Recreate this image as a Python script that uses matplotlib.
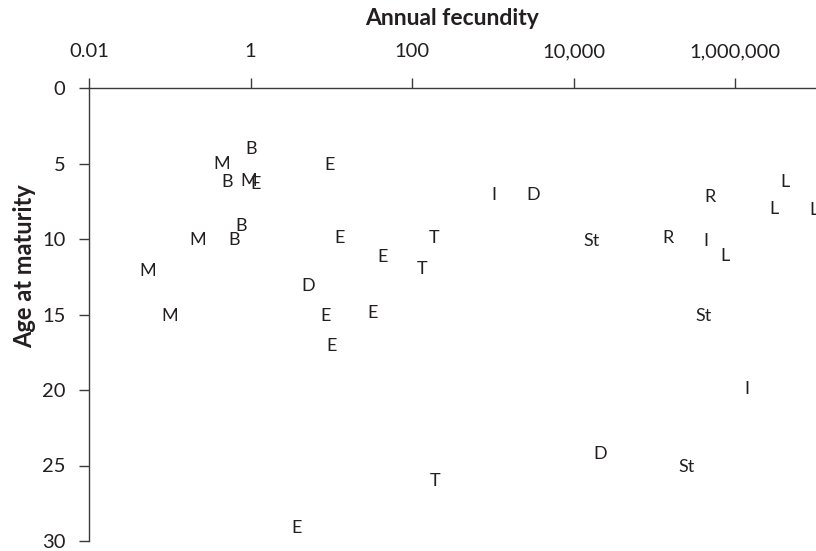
import matplotlib
matplotlib.use("Agg")
import matplotlib.pyplot as plt
from matplotlib.ticker import FixedLocator, FixedFormatter, NullLocator

plt.rcParams['font.family'] = ['Lato', 'DejaVu Sans']

labels = ['B', 'M', 'E', 'B', 'M', 'E', 'B', 'M', 'B', 'E',
          'M', 'D', 'M', 'E', 'E', 'E', 'I', 'D', 'T', 'E',
          'T', 'L', 'R', 'L', 'L', 'St', 'R', 'I', 'L', 'St',
          'I', 'D', 'St', 'T', 'E']
fecundity = [1.03, 0.44, 9.4, 0.51, 0.94, 1.14, 0.76, 0.22, 0.63, 12.8,
             0.054, 5.1, 0.099, 8.4, 32.6, 10.2, 1030, 3180, 189, 43,
             132, 4.08e6, 4.9e5, 2.98e6, 9.5e6, 16800, 1.49e5, 4.33e5, 7.4e5, 4.0e5,
             1.38e6, 21600, 2.5e5, 192, 3.76]
age = [4.05, 5.0, 5.1, 6.25, 6.15, 6.35, 9.15, 10.05, 10.05, 9.95,
       12.1, 13.1, 15.1, 15.1, 14.9, 17.1, 7.1, 7.1, 9.95, 11.2,
       12.0, 6.25, 7.25, 8.0, 8.05, 10.1, 9.95, 10.1, 11.1, 15.1,
       19.95, 24.25, 25.1, 26.05, 29.15]

xticks = [0.01, 1, 100, 1e4, 1e6]
xticklabels = ['0.01', '1', '100', '10,000', '1,000,000']
yticks = [0, 5, 10, 15, 20, 25, 30]
yticklabels = ['0', '5', '10', '15', '20', '25', '30']

W, H = 816, 551
fig = plt.figure(figsize=(W / 100, H / 100), dpi=100)
ax = fig.add_axes([89 / W, 1 - 541 / H, (816 - 89) / W, (541 - 88) / H])

txt = '#231f20'
spine_c = '#3a3a3a'

ax.set_xscale('log')
ax.set_xlim(0.01, 1e7)
ax.set_ylim(30, 0)

for lab, xv, yv in zip(labels, fecundity, age):
    ax.text(xv, yv, lab, ha='center', va='center', fontsize=13, color=txt,
            clip_on=False)

for s in ['right', 'bottom']:
    ax.spines[s].set_visible(False)
for s in ['top', 'left']:
    ax.spines[s].set_color(spine_c)
    ax.spines[s].set_linewidth(1.0)

ax.xaxis.tick_top()
ax.xaxis.set_major_locator(FixedLocator(xticks))
ax.xaxis.set_major_formatter(FixedFormatter(xticklabels))
ax.xaxis.set_minor_locator(NullLocator())
ax.set_yticks(yticks)
ax.set_yticklabels(yticklabels)
ax.tick_params(axis='x', which='major', direction='out', length=7, width=1.0,
               color=spine_c, labelsize=14.5, labelcolor=txt, pad=13)
ax.tick_params(axis='y', which='major', direction='out', length=7, width=1.0,
               color=spine_c, labelsize=14.5, labelcolor=txt, pad=10)

fig.text((89 + 816) / 2 / W, 1 - 25 / H, 'Annual fecundity', ha='center', va='baseline',
         fontsize=16.5, fontweight='bold', color=txt)
fig.text(25 / W, 1 - 266 / H, 'Age at maturity', ha='center', va='center',
         rotation=90, fontsize=17, fontweight='bold', color=txt)

fig.savefig('out.png', dpi=100)
